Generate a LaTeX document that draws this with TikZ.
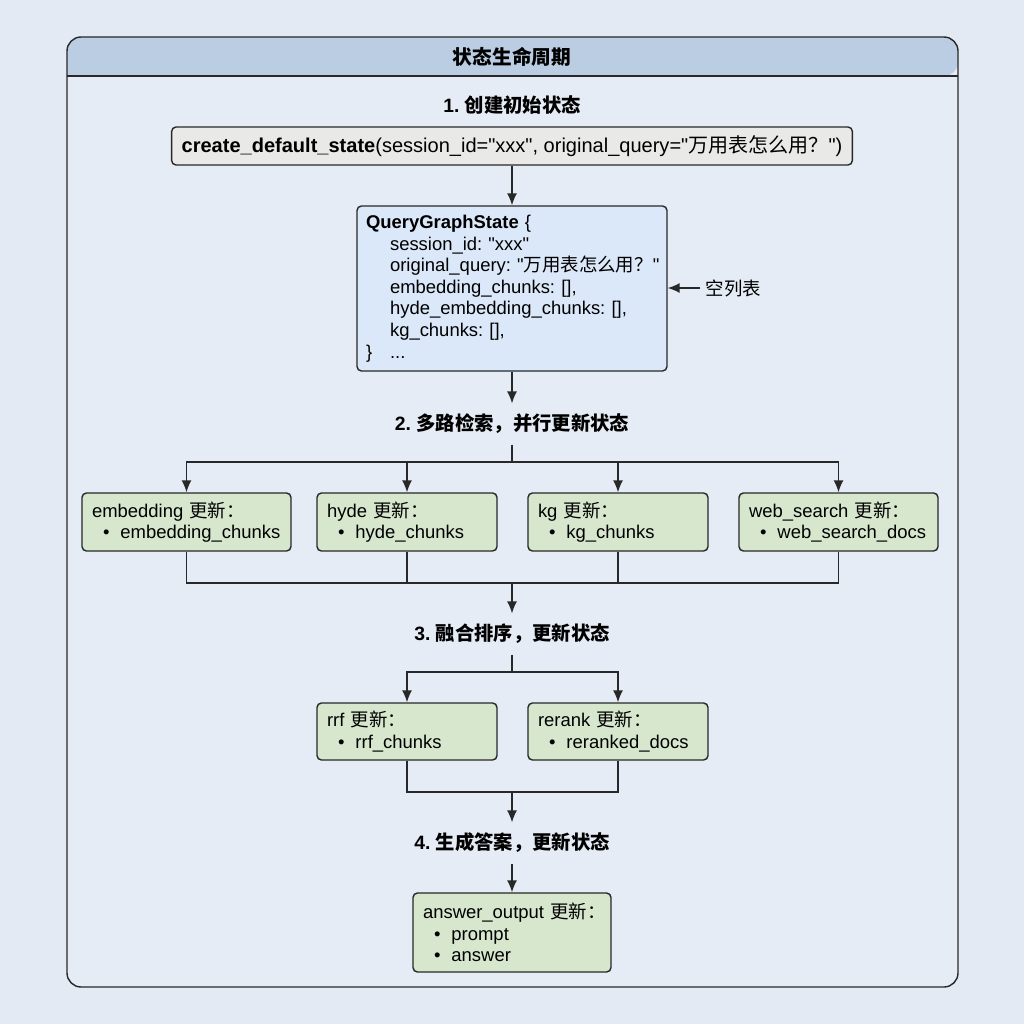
\documentclass[tikz,border=0pt]{standalone}
\usepackage{fontspec}
\setmainfont{Liberation Sans}[Ligatures=TeXOff]
\newfontfamily\cjk{Noto Sans CJK SC}
\newcommand{\zh}[1]{{\cjk #1}}
\newcommand{\itm}{\hspace*{0.22cm}•\hspace{0.22cm}}
\usetikzlibrary{arrows.meta}
\definecolor{bgcol}{RGB}{227,234,243}
\definecolor{bodycol}{RGB}{229,236,245}
\definecolor{headcol}{RGB}{186,205,226}
\definecolor{linecol}{RGB}{40,40,40}
\definecolor{graycol}{RGB}{233,233,231}
\definecolor{bluecol}{RGB}{219,232,249}
\definecolor{greencol}{RGB}{214,231,206}
\frenchspacing
\begin{document}
\begin{tikzpicture}[x=0.02cm, y=-0.02cm, line width=0.8pt,
  font=\fontsize{10.5}{12.3}\selectfont,
  stepname/.style={font=\fontsize{11}{12}\selectfont\bfseries, inner sep=0.2cm},
  box/.style={draw=linecol, rounded corners=2.5pt, align=left, inner xsep=0.2cm, inner ysep=0pt},
  gbox/.style={box, fill=greencol, text width=#1, minimum height=1.16cm},
  arr/.style={draw=linecol, -{Latex[length=0.24cm,width=0.2cm]}}]
  \useasboundingbox (0,0) rectangle (1024,1024);
  \fill[bgcol] (0,0) rectangle (1024,1024);
  % 外框与标题栏
  \fill[bodycol, rounded corners=8pt] (67,37) rectangle (958,987);
  \fill[headcol] (67,76) [rounded corners=8pt] |- (512,37) -| (958,76) [sharp corners] -- cycle;
  \draw[linecol, rounded corners=8pt] (67,37) rectangle (958,987);
  \draw[linecol] (67,76) -- (958,76);
  \node[font=\fontsize{11.2}{12}\selectfont\bfseries] (title) at (512,57) {\zh{状态生命周期}};
  % 1. 初始状态
  \node[stepname] (s1) at (512,105) {1. \zh{创建初始状态}};
  \node[box, fill=graycol, align=center, minimum width=13.6cm, minimum height=0.76cm,
    font=\fontsize{11.4}{12}\selectfont] (create) at (512,146)
    {\textbf{create\_default\_state}(session\_id="xxx", original\_query="\zh{万用表怎么用？}")};
  \node[box, fill=bluecol, inner xsep=0.18cm, text width=5.84cm, minimum height=3.3cm] (qgs) at (512,288.5)
    {\mbox{\textbf{QueryGraphState} \{}\\
     \mbox{\hspace*{0.48cm}session\_id: "xxx"}\\
     \mbox{\hspace*{0.48cm}original\_query: "\zh{万用表怎么用？}"}\\
     \mbox{\hspace*{0.48cm}embedding\_chunks: [],}\\
     \mbox{\hspace*{0.48cm}hyde\_embedding\_chunks: [],}\\
     \mbox{\hspace*{0.48cm}kg\_chunks: [],}\\
     \mbox{\makebox[0.48cm][l]{\}}...}};
  \node[anchor=west, inner sep=0.1cm] (empty) at (700,288) {\zh{空列表}};
  % 2. 多路检索
  \node[stepname] (s2) at (512,424) {2. \zh{多路检索，并行更新状态}};
  \node[gbox=3.78cm] (emb) at (186.5,522) {embedding~\zh{更新：}\\ \itm embedding\_chunks};
  \node[gbox=3.2cm] (hyde) at (407,522) {hyde~\zh{更新：}\\ \itm hyde\_chunks};
  \node[gbox=3.2cm] (kg) at (618,522) {kg~\zh{更新：}\\ \itm kg\_chunks};
  \node[gbox=3.58cm] (web) at (838.5,522) {web\_search~\zh{更新：}\\ \itm web\_search\_docs};
  % 3. 融合排序
  \node[stepname] (s3) at (512,634) {3. \zh{融合排序，更新状态}};
  \node[gbox=3.2cm, minimum height=1.14cm] (rrf) at (407,731.5) {rrf~\zh{更新：}\\ \itm rrf\_chunks};
  \node[gbox=3.2cm, minimum height=1.14cm] (rerank) at (618,731.5) {rerank~\zh{更新：}\\ \itm reranked\_docs};
  % 4. 生成答案
  \node[stepname] (s4) at (512,843) {4. \zh{生成答案，更新状态}};
  \node[gbox=3.56cm, minimum height=1.58cm] (ans) at (512,932.5)
    {answer\_output~\zh{更新：}\\ \itm prompt\\ \itm answer};
  % 连线
  \coordinate (f2) at (512,462);
  \coordinate (m2) at (512,583);
  \coordinate (f3) at (512,672);
  \coordinate (m3) at (512,792);
  \draw[arr] (create) -- (qgs);
  \draw[arr] (empty.west) -- (qgs.east |- empty.west);
  \draw[arr] (qgs) -- (s2);
  \draw[linecol] (s2) -- (f2);
  \foreach \b in {emb,hyde,kg,web} \draw[arr] (f2) -| (\b);
  \foreach \b in {emb,hyde,kg,web} \draw[linecol] (\b) |- (m2);
  \draw[arr] (m2) -- (s3);
  \draw[linecol] (s3) -- (f3);
  \foreach \b in {rrf,rerank} \draw[arr] (f3) -| (\b);
  \foreach \b in {rrf,rerank} \draw[linecol] (\b) |- (m3);
  \draw[arr] (m3) -- (s4);
  \draw[arr] (s4) -- (ans);
\end{tikzpicture}
\end{document}
